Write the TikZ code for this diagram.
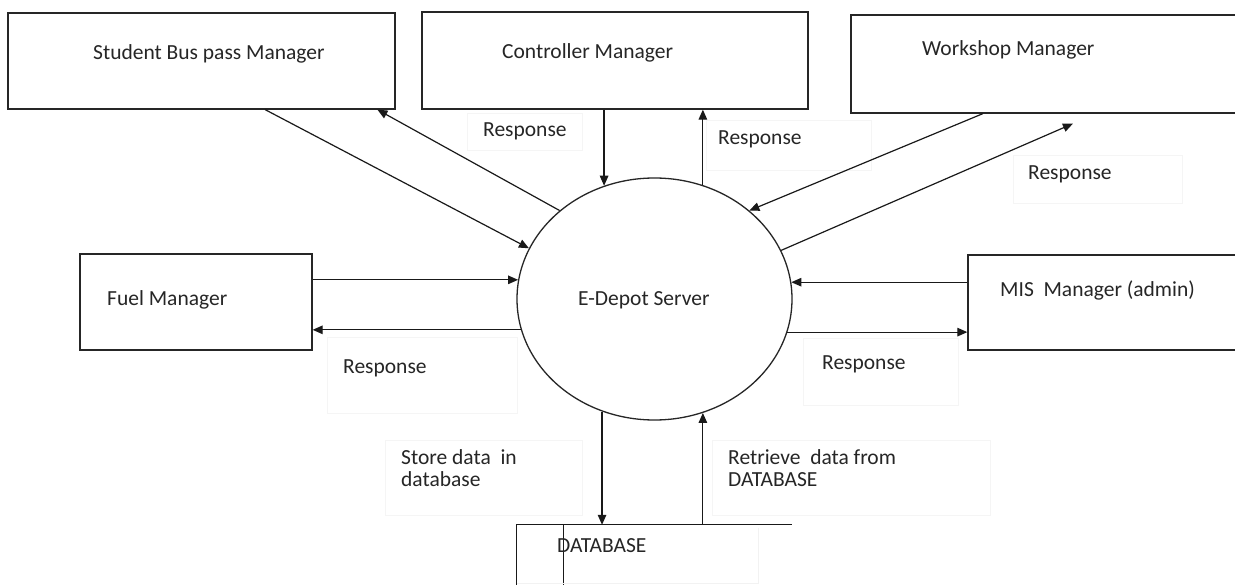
\documentclass[tikz,border=0pt]{standalone}
\usepackage{fontspec}
\setmainfont{Carlito}
\usetikzlibrary{arrows.meta,shapes.geometric,calc}
\begin{document}
\begin{tikzpicture}[x=1pt,y=-1pt,
  box/.style={draw=black!85,line width=1.3pt,rectangle,inner sep=0pt},
  lbl/.style={anchor=base west,inner sep=0pt,font=\fontsize{21.5}{22}\selectfont,text=black!85},
  faint/.style={draw=black!4,line width=0.6pt,rectangle,inner sep=0pt},
  flow/.style={line width=1.2pt,draw=black!90,-{Triangle[length=10pt,width=8.5pt]}},
  plain/.style={line width=1.2pt,draw=black!90}]
\clip (0,0) rectangle (1235,585);
\fill[white] (0,0) rectangle (1235,585);
% faint label frames
\node[faint,minimum width=115pt,minimum height=37pt] (fr1) at (524.5,131.5) {};
\node[faint,minimum width=165pt,minimum height=50pt] (fr2) at (788.5,145) {};
\node[faint,minimum width=169pt,minimum height=48pt] (fr3) at (1097.5,179) {};
\node[faint,minimum width=190pt,minimum height=76pt] (fr4) at (422,375) {};
\node[faint,minimum width=155pt,minimum height=67pt] (fr5) at (880.5,371.5) {};
\node[faint,minimum width=197pt,minimum height=75pt] (fr6) at (483.5,477.5) {};
\node[faint,minimum width=278pt,minimum height=75pt] (fr7) at (851,477.5) {};
% boxes
\node[box,minimum width=387pt,minimum height=96pt] (stud) at (201.5,61) {};
\node[box,minimum width=386pt,minimum height=97pt] (ctrl) at (615,60.5) {};
\node[box,minimum width=399pt,minimum height=98pt] (work) at (1050.5,64) {};
\node[box,minimum width=232pt,minimum height=96pt] (fuel) at (196,302) {};
\node[box,minimum width=282pt,minimum height=95pt] (mis) at (1109,302.5) {};
\node[ellipse,draw=black!85,line width=1.3pt,minimum width=275pt,minimum height=242pt,inner sep=0pt] (srv) at (654.5,299) {};
\node[rectangle,draw=none,minimum width=275pt,minimum height=75pt,inner sep=0pt] (db) at (654.5,562.5) {};
% database outline
\draw[plain] (db.south west) -- (db.north west) -- (db.north east);
\draw[plain] ($(db.north west)+(47,0)$) -- ($(db.south west)+(47,0)$);
\draw[draw=black!5,line width=0.6pt] ($(db.north west)+(241,3)$) -- ($(db.north west)+(241,58)$) -- ($(db.north west)+(0,58)$);
% texts
\node[lbl] (tstud) at (93,59.5) {Student Bus pass Manager};
\node[lbl] (tctrl) at (502,58.5) {Controller Manager};
\node[lbl] (twork) at (922,55.5) {Workshop Manager};
\node[lbl] (tfuel) at (107,305.5) {Fuel Manager};
\node[lbl] (tmis) at (1000,296.5) {MIS\ \ Manager (admin)};
\node[lbl] (tsrv) at (578,305.5) {E-Depot Server};
\node[lbl] (tdb) at (557,552.5) {DATABASE};
\node[lbl] (r1) at (483,136.5) {Response};
\node[lbl] (r2) at (718,144.5) {Response};
\node[lbl] (r3) at (1028,179.5) {Response};
\node[lbl] (r4) at (343,373.5) {Response};
\node[lbl] (r5) at (822,369.5) {Response};
\node[lbl,align=left] (tstore) at (401,486.5) {Store data\ \ in\\database};
\node[lbl,align=left] (tretr) at (728,486.5) {Retrieve\ \ data from\\DATABASE};
% connectors
\draw[flow] ($(stud.south west)!0.664!(stud.south east)$) -- (srv.158.95);
\draw[flow] (srv.137.97) -- ($(stud.south west)!0.953!(stud.south east)$);
\draw[flow] (ctrl.south -| srv.114.2) -- (srv.114.2);
\draw[flow] (srv.67.3) -- (srv.67.3 |- ctrl.south);
\draw[flow] ($(work.south west)!0.331!(work.south east)$) -- (srv.43);
\coordinate (wtip) at ($(work.south west)!0.556!(work.south east)+(0,10)$);
\draw[flow] (srv.21.05) -- (wtip);
\draw[flow] (fuel.east |- srv.172.46) -- (srv.172.46);
\draw[flow] (srv.193.13) -- (fuel.east |- srv.193.13);
\draw[flow] (mis.west |- srv.7.54) -- (srv.7.54);
\draw[flow] (srv.346.87) -- (mis.west |- srv.346.87);
\draw[flow] (srv.245.8) -- (srv.245.8 |- db.north);
\draw[flow] (srv.293.2 |- db.north) -- (srv.293.2);
\end{tikzpicture}
\end{document}
